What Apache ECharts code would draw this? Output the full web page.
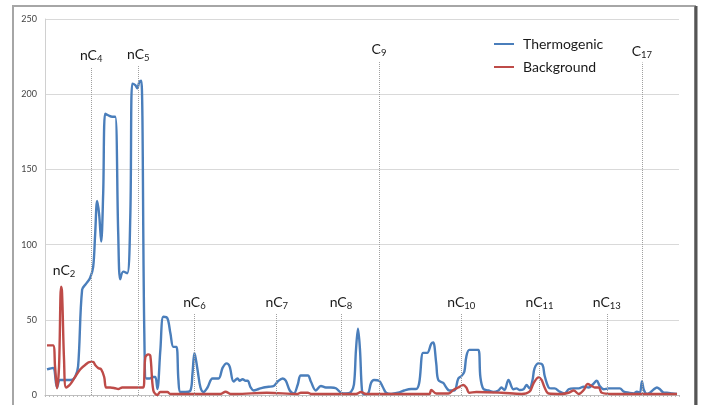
<!DOCTYPE html>
<html>
<head>
<meta charset="utf-8">
<script src="https://cdn.jsdelivr.net/npm/echarts@6/dist/echarts.min.js"></script>
<style>
html,body{margin:0;padding:0;background:#fff;}
#chart{width:702px;height:405px;}
</style>
</head>
<body>
<div id="chart"></div>
<script>
// Retention position (scan units) and abundance
var thermoX = [2,8,12,15,21,26,30,33,37,41,45,48,50,52,54,56,58,60,63,67,70,73,75,78,82,85,87,90,92,94,96,99,101,104,108,110,112,115,118,122,125,128,131,133,135,140,145,147,149,152,155,158,162,167,173,177,181,184,188,192,194,197,200,202,205,208,213,218,223,228,232,237,240,244,248,252,255,262,265,270,275,280,285,290,295,300,305,308,310,312,314,316,318,322,325,328,333,337,340,345,352,358,365,370,373,377,381,385,387,390,392,397,400,403,408,412,415,418,420,423,428,432,434,437,442,447,452,455,458,462,467,470,473,477,480,483,486,488,492,496,498,502,505,508,513,518,522,527,532,537,542,546,550,553,557,562,568,573,577,582,587,590,593,595,597,600,603,607,610,613,617,620,625,630];
var thermoY = [17,18,5,10,10,10,12,19,70,74,78,85,107,129,120,102,134,187,186,185,185,107,77,82,81,118,207,206,204,208,209,41,11,11,12,12,4,30,52,51,41,32,32,10,2,2,3,14,28,17,5,2,5,11,11,18,21,19,9,11,9.5,10.5,9.5,9.5,5,3,4,5,5.5,6,9,11,9.5,3,1,7,13,13,9,3,6,5,5,4.5,1.5,1,2,7,30,44,30,3,0.5,1,8,10,9.5,5,1.5,0.7,1.5,3,4,4,8,28,28,34,35,21,10,8,5,3,3,11,12.5,15.5,25.5,30,30,30,12,4,3,2,3,5,3.3,10,3.8,4.4,3.3,3.8,6.6,4.4,10,17.7,21,20,13,5,4.4,4.4,2.2,1.1,3.8,4.4,4.4,5.5,5,7,9.5,6,3.8,4.4,4.4,4.4,2.2,1.5,1.1,2.2,1.5,9,3.3,0.7,1.5,3.8,5,3.8,1.5,1.5,1.1,0.7];
var backX = [2,8,10,12,14,16,17,19,21,25,30,35,40,45,48,50,53,56,59,61,65,70,73,77,85,95,98,100,103,105,108,112,115,122,125,155,175,180,185,190,221,252,255,262,265,310,315,320,383,385,390,402,407,412,417,420,423,430,455,475,483,487,492,495,498,502,515,522,527,532,537,541,545,548,552,555,565,630];
var backY = [33,33,19,4.5,19,72,68,23,5,7,12,17,20,22,22,20,18,17,12,5,5,4.5,4,5,5,5,5,25,27,26,3,0,2,2,0.7,0.7,0.7,2.2,0.7,0.7,1.5,0.7,1.5,1.5,0.7,0.7,2,0.7,0.7,3.3,1,1,3.3,5,6.6,5,1.5,2,1.5,0.7,2.2,7.8,11.7,10,5,1,0.7,1.5,3,0.7,3.3,7.3,6,5,5,1.5,0.7,0.7];

var seriesNames = ['Thermogenic', 'Background'];
var yTicks = [0, 50, 100, 150, 200, 250];

// Compound markers
var markerNames = ['nC', 'nC', 'nC', 'nC', 'nC', 'C', 'nC', 'nC', 'nC', 'C'];
var markerSubs = ['4', '5', '6', '7', '8', '9', '10', '11', '13', '17'];
var markerX = [46, 93, 149, 231, 295, 333, 415, 493, 560, 595];
var markerTop = [218, 219, 54, 54, 54, 222, 54, 54, 54, 221];
var nC2Label = {main: 'nC', sub: '2', x: 19, y: 83};

function pairs(xs, ys) { return xs.map(function (x, i) { return [x, ys[i]]; }); }

var fontFam = 'Lato, "Open Sans", sans-serif';
var richLab = {
  n: {fontSize: 14, color: '#1a1a1a', fontFamily: fontFam, lineHeight: 17},
  s: {fontSize: 9.5, color: '#1a1a1a', fontFamily: fontFam, lineHeight: 17, verticalAlign: 'bottom', padding: [8, 0, 0, 0]}
};

var markLineData = markerX.map(function (x, i) {
  return [
    {coord: [x, 0], label: {show: true, position: 'end', distance: 3,
      formatter: '{n|' + markerNames[i] + '}{s|' + markerSubs[i] + '}', rich: richLab}},
    {coord: [x, markerTop[i]]}
  ];
});

var chart = echarts.init(document.getElementById('chart'), null, {renderer: 'canvas'});
chart.setOption({
  backgroundColor: '#fff',
  animation: false,
  graphic: [
    {type: 'rect', z: -10, silent: true, shape: {x: 13, y: 6, width: 682, height: 410},
      style: {fill: '#fff', stroke: '#a6a6a6', lineWidth: 2}},
    {type: 'line', z: -9, silent: true, shape: {x1: 696, y1: 6, x2: 696, y2: 405},
      style: {stroke: '#555', lineWidth: 3}}
  ],
  grid: {left: 45, right: 23, top: 19, bottom: 10, containLabel: false},
  legend: {
    orient: 'vertical', left: 489, top: 32, itemWidth: 20, itemHeight: 14, itemGap: 9,
    icon: 'path://M0,6 L20,6 L20,8 L0,8 Z',
    textStyle: {fontSize: 14, color: '#1a1a1a', fontFamily: fontFam, padding: [0, 0, 0, 4]},
    data: seriesNames
  },
  xAxis: {
    type: 'value', min: 0, max: 632, interval: 4,
    axisLine: {show: true, lineStyle: {color: '#bfbfbf', width: 1}},
    axisTick: {show: true, length: 2, lineStyle: {color: '#bbb'}},
    axisLabel: {show: false},
    splitLine: {show: false}
  },
  yAxis: {
    type: 'value', min: yTicks[0], max: yTicks[yTicks.length - 1], interval: 50,
    axisLine: {show: true, lineStyle: {color: '#d0d0d0'}},
    axisTick: {show: false},
    axisLabel: {fontSize: 9, color: '#444', margin: 8, fontFamily: fontFam},
    splitLine: {lineStyle: {color: '#d9d9d9', width: 1}}
  },
  series: [
    {
      name: seriesNames[0], type: 'line', data: pairs(thermoX, thermoY),
      smooth: 0.35, symbol: 'none', z: 3,
      lineStyle: {color: '#4a7ebb', width: 2.4}, itemStyle: {color: '#4a7ebb'},
      markLine: {
        silent: true, symbol: ['none', 'none'], animation: false,
        lineStyle: {type: 'dotted', color: '#a0a0a0', width: 1},
        data: markLineData
      },
      markPoint: {
        silent: true, symbol: 'rect', symbolSize: 1, itemStyle: {color: 'rgba(0,0,0,0)'},
        label: {show: true, position: 'inside', rich: richLab,
          formatter: '{n|' + nC2Label.main + '}{s|' + nC2Label.sub + '}'},
        data: [{coord: [nC2Label.x, nC2Label.y]}]
      }
    },
    {
      name: seriesNames[1], type: 'line', data: pairs(backX, backY),
      smooth: 0.35, symbol: 'none', z: 4,
      lineStyle: {color: '#be4b48', width: 2.4}, itemStyle: {color: '#be4b48'}
    }
  ]
});
</script>
</body>
</html>
